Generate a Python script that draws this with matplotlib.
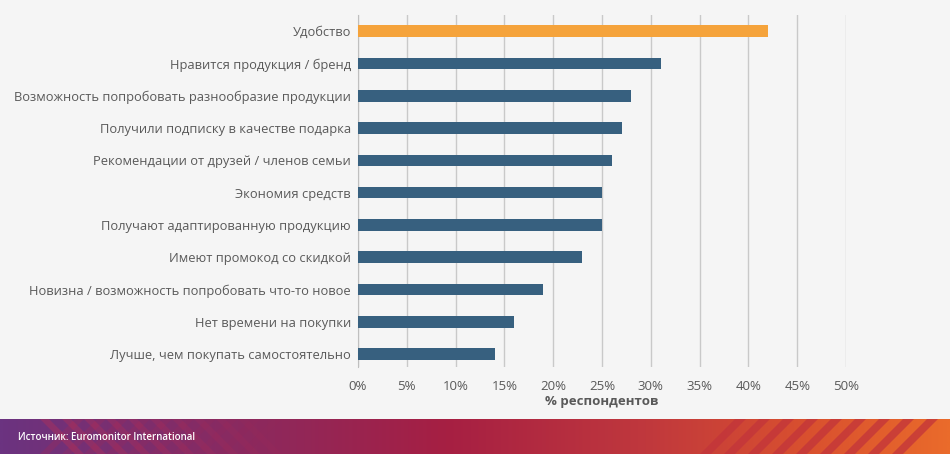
import numpy as np
import matplotlib.pyplot as plt
from matplotlib.colors import LinearSegmentedColormap
from matplotlib.patches import Polygon

plt.rcParams['font.family'] = ['Open Sans', 'DejaVu Sans']

# данные
categories = [
    "Удобство",
    "Нравится продукция / бренд",
    "Возможность попробовать разнообразие продукции",
    "Получили подписку в качестве подарка",
    "Рекомендации от друзей / членов семьи",
    "Экономия средств",
    "Получают адаптированную продукцию",
    "Имеют промокод со скидкой",
    "Новизна / возможность попробовать что-то новое",
    "Нет времени на покупки",
    "Лучше, чем покупать самостоятельно",
]
values = [42, 31, 28, 27, 26, 25, 25, 23, 19, 16, 14]
xticks = [0, 5, 10, 15, 20, 25, 30, 35, 40, 45, 50]
xlabel = "% респондентов"
source = "Источник: Euromonitor International"

BG = "#f5f5f5"
BLUE = "#37607f"
ORANGE = "#f5a33b"
GREY = "#595959"

fig = plt.figure(figsize=(9.5, 4.54), dpi=100, facecolor=BG)

# основной график
ax = fig.add_axes([358 / 950, 1 - 367 / 454, 488 / 950, 352 / 454])
ax.set_facecolor(BG)
ypos = np.arange(len(categories))[::-1]
colors = [ORANGE] + [BLUE] * (len(categories) - 1)
ax.barh(ypos, values, height=0.36, color=colors, zorder=3)
ax.set_xlim(0, 50)
ax.set_ylim(-0.4, 10.5)
ax.set_xticks(xticks)
ax.set_xticklabels([f"{t}%" for t in xticks], color=GREY, fontsize=9.5)
ax.set_yticks(ypos)
ax.set_yticklabels(categories, color=GREY, fontsize=9.3)
ax.tick_params(axis='x', length=0, pad=9)
ax.tick_params(axis='y', length=0, pad=5)
ax.grid(axis='x', color="#c9c9c9", linewidth=1, zorder=0)
for s in ['top', 'right', 'bottom']:
    ax.spines[s].set_visible(False)
ax.spines['left'].set_color("#bfbfbf")
ax.set_xlabel(xlabel, color=GREY, fontsize=9.5, fontweight='bold', labelpad=2)

# нижняя полоса с градиентом
fax = fig.add_axes([0, 0, 1, 35 / 454])
fax.set_xlim(0, 950)
fax.set_ylim(0, 35)
fax.axis('off')
cmap = LinearSegmentedColormap.from_list(
    "band", [(0, "#6b3380"), (0.25, "#8a2a60"), (0.47, "#a61f43"),
             (0.68, "#c0383d"), (0.85, "#d9502f"), (1, "#ea6b2b")])
grad = np.linspace(0, 1, 512)[None, :]
fax.imshow(grad, cmap=cmap, extent=[0, 950, 0, 35], aspect='auto', zorder=0)

# диагональные полосы слева (перекрещенные)
for i, x0 in enumerate(range(40, 260, 22)):
    a = 0.3 * (1 - i / 11)
    fax.add_patch(Polygon([(x0, 35), (x0 + 9, 35), (x0 + 44, 0), (x0 + 35, 0)],
                          closed=True, color="#d0304a", alpha=a, lw=0, zorder=1))
    fax.add_patch(Polygon([(x0 + 35, 35), (x0 + 44, 35), (x0 + 9, 0), (x0, 0)],
                          closed=True, color="#b0284e", alpha=a * 0.8, lw=0, zorder=1))

# диагональные полосы справа
for i, x0 in enumerate(range(700, 900, 24)):
    fax.add_patch(Polygon([(x0, 0), (x0 + 11, 0), (x0 + 46, 35), (x0 + 35, 35)],
                          closed=True, color="#c2343b", alpha=0.75, lw=0, zorder=1))

fax.text(18, 17, source, color="white", fontsize=7, fontweight='semibold',
         va='center', ha='left', zorder=2)

fig.savefig("out.png", dpi=100, facecolor=BG)
